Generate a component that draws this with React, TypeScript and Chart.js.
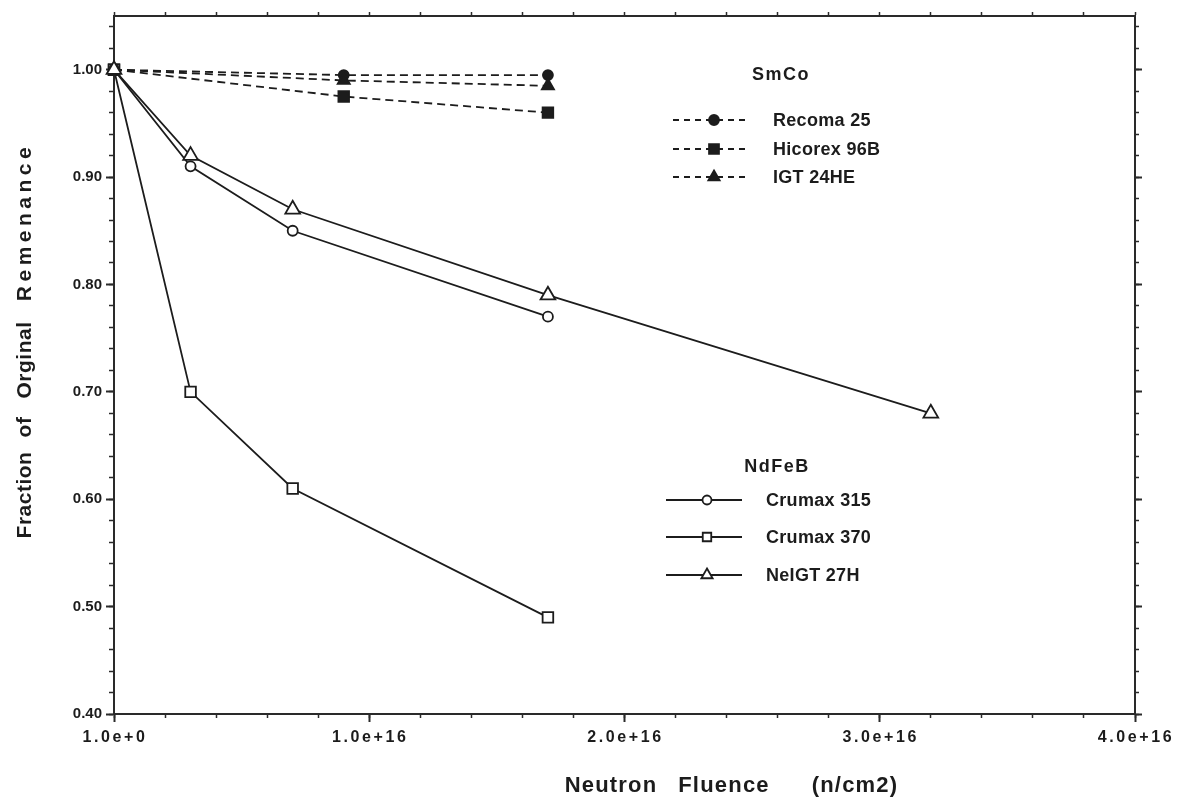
import React, { useEffect, useRef } from 'react';
import { Chart, registerables } from 'chart.js';

Chart.register(...registerables);

// ---------- data ----------
const xTickValues = [0, 1e16, 2e16, 3e16, 4e16];
const xTickLabels = ['1.0e+0', '1.0e+16', '2.0e+16', '3.0e+16', '4.0e+16'];
const yTickLabels = ['0.40', '0.50', '0.60', '0.70', '0.80', '0.90', '1.00'];

const smcoFluence = [0, 0.9e16, 1.7e16];
const recoma25 = [1.0, 0.995, 0.995];
const hicorex96B = [1.0, 0.975, 0.96];
const igt24HE = [1.0, 0.99, 0.985];

const crumaxFluence = [0, 0.3e16, 0.7e16, 1.7e16];
const crumax315 = [1.0, 0.91, 0.85, 0.77];
const crumax370 = [1.0, 0.7, 0.61, 0.49];
const neigtFluence = [0, 0.3e16, 0.7e16, 1.7e16, 3.2e16];
const neigt27H = [1.0, 0.92, 0.87, 0.79, 0.68];

const smcoTitle = 'SmCo';
const ndfebTitle = 'NdFeB';
const smcoLabels = ['Recoma 25', 'Hicorex 96B', 'IGT 24HE'];
const ndfebLabels = ['Crumax 315', 'Crumax 370', 'NeIGT 27H'];

const yTitleWords = ['Fraction', 'of', 'Orginal', 'Remenance'];
const xTitleWords = ['Neutron', 'Fluence', '(n/cm2)'];

// ---------- styles ----------
const INK = '#1c1c1c';
const FONT = "'Liberation Sans', Arial, Helvetica, sans-serif";
const LW = 1.8;

type Series = {
  label: string;
  xs: number[];
  ys: number[];
  style: 'circle' | 'rect' | 'triangle';
  filled: boolean;
  dashed: boolean;
  radius: number;
  order: number;
};

const series: Series[] = [
  { label: smcoLabels[0], xs: smcoFluence, ys: recoma25, style: 'circle', filled: true, dashed: true, radius: 5, order: 3 },
  { label: smcoLabels[1], xs: smcoFluence, ys: hicorex96B, style: 'rect', filled: true, dashed: true, radius: 7.5, order: 3 },
  { label: smcoLabels[2], xs: smcoFluence, ys: igt24HE, style: 'triangle', filled: true, dashed: true, radius: 7, order: 2 },
  { label: ndfebLabels[0], xs: crumaxFluence, ys: crumax315, style: 'circle', filled: false, dashed: false, radius: 5, order: 1 },
  { label: ndfebLabels[1], xs: crumaxFluence, ys: crumax370, style: 'rect', filled: false, dashed: false, radius: 7.5, order: 1 },
  { label: ndfebLabels[2], xs: neigtFluence, ys: neigt27H, style: 'triangle', filled: false, dashed: false, radius: 8.5, order: 0 },
];

function drawMarker(ctx: CanvasRenderingContext2D, s: Series, x: number, y: number, r: number) {
  ctx.save();
  ctx.setLineDash([]);
  ctx.lineWidth = LW;
  ctx.strokeStyle = INK;
  ctx.fillStyle = s.filled ? INK : '#ffffff';
  ctx.beginPath();
  if (s.style === 'circle') {
    ctx.arc(x, y, r, 0, Math.PI * 2);
  } else if (s.style === 'rect') {
    const h = r * Math.SQRT1_2;
    ctx.rect(x - h, y - h, 2 * h, 2 * h);
  } else {
    const a = (2 * Math.PI) / 3;
    ctx.moveTo(x, y - r);
    ctx.lineTo(x + Math.sin(a) * r, y - Math.cos(a) * r);
    ctx.lineTo(x + Math.sin(2 * a) * r, y - Math.cos(2 * a) * r);
    ctx.closePath();
  }
  ctx.fill();
  ctx.stroke();
  ctx.restore();
}

const overlayPlugin = {
  id: 'overlay',
  afterDraw(chart: any) {
    const ctx: CanvasRenderingContext2D = chart.ctx;
    const xs = chart.scales.x;
    ctx.save();
    ctx.fillStyle = INK;

    // x tick labels (letter-spaced)
    ctx.font = `bold 16px ${FONT}`;
    (ctx as any).letterSpacing = '2.6px';
    ctx.textAlign = 'center';
    ctx.textBaseline = 'middle';
    xTickValues.forEach((v, i) => {
      ctx.fillText(xTickLabels[i], xs.getPixelForValue(v) + 1, 738);
    });

    // x title
    ctx.font = `bold 22px ${FONT}`;
    (ctx as any).letterSpacing = '1.2px';
    const xTitlePos = [611, 724, 855];
    xTitleWords.forEach((w, i) => ctx.fillText(w, xTitlePos[i], 786));

    // y title (rotated)
    ctx.save();
    ctx.translate(25, 0);
    ctx.rotate(-Math.PI / 2);
    ctx.font = `bold 21px ${FONT}`;
    const yTitlePos = [495, 427, 360, 222];
    const yTitleSpacing = ['0.5px', '0.5px', '0.5px', '4.5px'];
    yTitleWords.forEach((w, i) => {
      (ctx as any).letterSpacing = yTitleSpacing[i];
      ctx.fillText(w, -yTitlePos[i], 0);
    });
    ctx.restore();

    // legends
    const groups = [
      {
        title: smcoTitle, tx: 781, ty: 75, items: series.slice(0, 3),
        rows: [120, 149, 177], l0: 673, l1: 748, mx: 714, textX: 773, mr: [5, 7, 6.5],
      },
      {
        title: ndfebTitle, tx: 777, ty: 467, items: series.slice(3, 6),
        rows: [500, 537, 575], l0: 666, l1: 742, mx: 707, textX: 766, mr: [4.5, 6, 6.5],
      },
    ];
    groups.forEach((g) => {
      ctx.font = `bold 18px ${FONT}`;
      (ctx as any).letterSpacing = '1.5px';
      ctx.textAlign = 'center';
      ctx.fillStyle = INK;
      ctx.fillText(g.title, g.tx, g.ty);
      g.items.forEach((s, i) => {
        const y = g.rows[i];
        ctx.save();
        ctx.strokeStyle = INK;
        ctx.lineWidth = LW;
        ctx.setLineDash(s.dashed ? [6, 5] : []);
        ctx.beginPath();
        ctx.moveTo(g.l0, y);
        ctx.lineTo(g.l1, y);
        ctx.stroke();
        ctx.restore();
        drawMarker(ctx, s, g.mx, y, g.mr[i]);
        ctx.font = `bold 18px ${FONT}`;
        (ctx as any).letterSpacing = '0.3px';
        ctx.textAlign = 'left';
        ctx.fillStyle = INK;
        ctx.fillText(s.label, g.textX, y + 1);
      });
    });
    (ctx as any).letterSpacing = '0px';
    ctx.restore();
  },
};

export default function App() {
  const canvasRef = useRef<HTMLCanvasElement | null>(null);

  useEffect(() => {
    document.body.style.margin = '0';
    document.body.style.background = '#ffffff';
    const canvas = canvasRef.current;
    if (!canvas) return;

    const datasets = series.map((s) => ({
      label: s.label,
      data: s.xs.map((x, i) => ({ x, y: s.ys[i] })),
      order: s.order,
      borderColor: INK,
      borderWidth: LW,
      borderDash: s.dashed ? [8, 5] : [],
      pointStyle: s.style,
      pointRadius: s.radius,
      pointHoverRadius: s.radius,
      pointBackgroundColor: s.filled ? INK : '#ffffff',
      pointBorderColor: INK,
      pointBorderWidth: LW,
      fill: false,
      tension: 0,
      clip: false as any,
      xAxisID: 'x',
      yAxisID: 'y',
    }));

    const xRange = { min: 0, max: 4e16 };
    const yRange = { min: 0.4, max: 1.05 };
    const axisBorder = { display: true, width: 2, color: '#2a2a2a' };
    const noBorder = { display: false };

    const chart = new Chart(canvas, {
      type: 'line',
      data: { datasets },
      plugins: [overlayPlugin],
      options: {
        animation: false,
        responsive: false,
        events: [],
        layout: { padding: { left: 0, top: 16, right: 48, bottom: 0 } },
        plugins: { legend: { display: false }, tooltip: { enabled: false }, title: { display: false } },
        scales: {
          x: {
            type: 'linear', position: 'bottom', weight: 1, ...xRange,
            ticks: { display: false, stepSize: 1e16, includeBounds: false },
            grid: { drawOnChartArea: false, tickLength: 8, tickWidth: 2, tickColor: '#2a2a2a' },
            border: axisBorder,
            afterFit: (s: any) => { s.height = 86; },
          },
          xMinor: {
            type: 'linear', position: 'bottom', weight: 0, ...xRange,
            ticks: { display: false, stepSize: 0.2e16, includeBounds: false },
            grid: { drawOnChartArea: false, tickLength: 4, tickWidth: 1.5, tickColor: '#2a2a2a' },
            border: noBorder,
            afterFit: (s: any) => { s.height = 0; },
          },
          xTop: {
            type: 'linear', position: 'top', ...xRange,
            ticks: { display: false, stepSize: 0.2e16, includeBounds: false },
            grid: { drawOnChartArea: false, tickLength: 4, tickWidth: 1.5, tickColor: '#2a2a2a' },
            border: axisBorder,
            afterFit: (s: any) => { s.height = 0; },
          },
          y: {
            type: 'linear', position: 'left', weight: 1, ...yRange,
            ticks: {
              display: true, stepSize: 0.1, includeBounds: false, padding: 4,
              color: INK, font: { family: FONT, size: 15, weight: 'bold' },
              callback: (v: any) => {
                const i = Math.round((Number(v) - 0.4) / 0.1);
                return yTickLabels[i] ?? '';
              },
            },
            grid: { drawOnChartArea: false, tickLength: 8, tickWidth: 2, tickColor: '#2a2a2a' },
            border: axisBorder,
            afterFit: (s: any) => { s.width = 114; },
          },
          yMinor: {
            type: 'linear', position: 'left', weight: 0, ...yRange,
            ticks: { display: false, stepSize: 0.02, includeBounds: false },
            grid: { drawOnChartArea: false, tickLength: 5, tickWidth: 1.5, tickColor: '#2a2a2a' },
            border: noBorder,
            afterFit: (s: any) => { s.width = 0; },
          },
          yRight: {
            type: 'linear', position: 'right', weight: 0, ...yRange,
            ticks: { display: false, stepSize: 0.02, includeBounds: false },
            grid: { drawOnChartArea: false, tickLength: 4, tickWidth: 1.5, tickColor: '#2a2a2a' },
            border: axisBorder,
            afterFit: (s: any) => { s.width = 0; },
          },
          yRightMajor: {
            type: 'linear', position: 'right', weight: 1, ...yRange,
            ticks: { display: false, stepSize: 0.1, includeBounds: false },
            grid: { drawOnChartArea: false, tickLength: 7, tickWidth: 2, tickColor: '#2a2a2a' },
            border: noBorder,
            afterFit: (s: any) => { s.width = 0; },
          },
        },
      } as any,
    });

    return () => chart.destroy();
  }, []);

  return (
    <div style={{ width: 1183, height: 800, background: '#ffffff' }}>
      <canvas ref={canvasRef} width={1183} height={800} style={{ display: 'block' }} />
    </div>
  );
}
